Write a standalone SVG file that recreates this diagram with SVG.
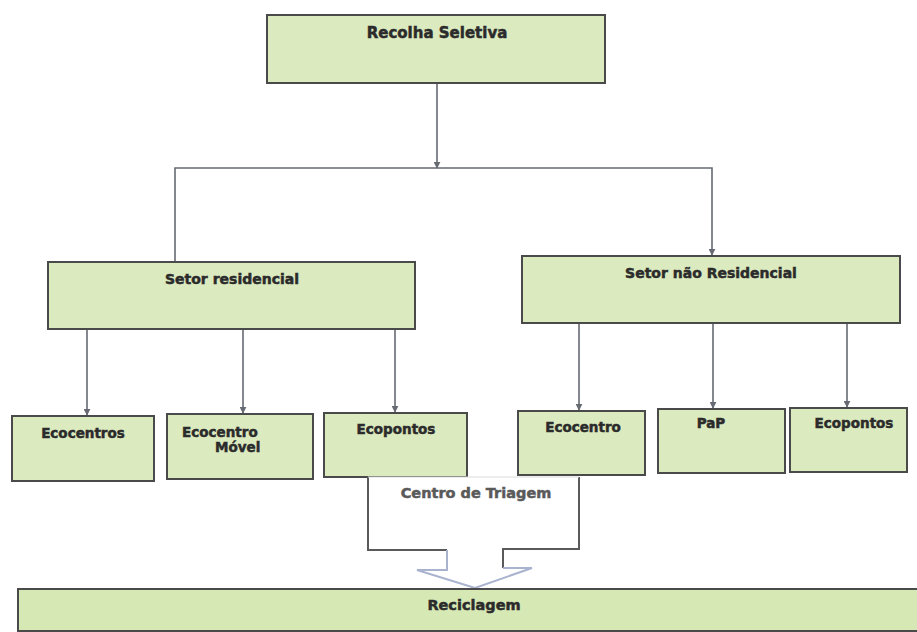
<svg xmlns="http://www.w3.org/2000/svg" width="917" height="632" viewBox="0 0 917 632">
<style>
.box{fill:#dbeabf;stroke:#4a4a4a;stroke-width:2}
.lbl{font-family:"DejaVu Sans","Liberation Sans",sans-serif;font-weight:bold;font-size:13.5px;fill:#2b2b2b;stroke:#2b2b2b;stroke-width:0.5}
.c{text-anchor:middle}
.con{fill:none;stroke:#666a72;stroke-width:1.6}
</style>
<defs>
<marker id="ah" viewBox="0 0 10 10" refX="9" refY="5" markerWidth="7" markerHeight="7" orient="auto" markerUnits="userSpaceOnUse">
<path d="M0,0 L10,5 L0,10 z" fill="#666a72"/>
</marker>
</defs>
<rect width="917" height="632" fill="#ffffff"/>
<g id="connectors">
<path class="con" d="M437,83 V168" marker-end="url(#ah)"/>
<path class="con" d="M175,262 V168 H712 V255" marker-end="url(#ah)"/>
<path class="con" d="M87,329 V415" marker-end="url(#ah)"/>
<path class="con" d="M243,329 V413" marker-end="url(#ah)"/>
<path class="con" d="M395,329 V412" marker-end="url(#ah)"/>
<path class="con" d="M579,323 V410" marker-end="url(#ah)"/>
<path class="con" d="M713,323 V408" marker-end="url(#ah)"/>
<path class="con" d="M847,323 V407" marker-end="url(#ah)"/>
</g>
<g id="recolha">
<rect class="box" x="267" y="15" width="338" height="68"/>
<text class="lbl c" x="437" y="38" style="font-size:15px">Recolha Seletiva</text>
</g>
<g id="setor-residencial">
<rect class="box" x="48" y="262" width="367" height="67"/>
<text class="lbl c" x="232" y="284" style="font-size:14px">Setor residencial</text>
</g>
<g id="setor-nao-residencial">
<rect class="box" x="522" y="256" width="378" height="67"/>
<text class="lbl c" x="711" y="278" style="font-size:14px">Setor não Residencial</text>
</g>
<g id="ecocentros">
<rect class="box" x="12" y="416" width="142" height="65"/>
<text class="lbl c" x="83" y="438">Ecocentros</text>
</g>
<g id="ecocentro-movel">
<rect class="box" x="167" y="414" width="146" height="65"/>
<text class="lbl" x="182" y="437">Ecocentro</text>
<text class="lbl" x="215" y="452">Móvel</text>
</g>
<g id="ecopontos-1">
<rect class="box" x="324" y="413" width="143" height="64"/>
<text class="lbl c" x="396" y="434">Ecopontos</text>
</g>
<g id="ecocentro">
<rect class="box" x="518" y="411" width="127" height="64"/>
<text class="lbl c" x="583" y="432">Ecocentro</text>
</g>
<g id="pap">
<rect class="box" x="658" y="409" width="127" height="64"/>
<text class="lbl c" x="711" y="428">PaP</text>
</g>
<g id="ecopontos-2">
<rect class="box" x="790" y="408" width="117" height="64"/>
<text class="lbl c" x="854" y="428">Ecopontos</text>
</g>
<g id="centro-triagem">
<path d="M368,477 H579 V549 H503 V568 H532 L475,588 L417,570 H447 V550 H368 Z" fill="#ffffff" stroke="none"/>
<path d="M368,477 V550 H447" fill="none" stroke="#5a5a5a" stroke-width="2"/>
<path d="M579,477 V549 H503 V568" fill="none" stroke="#5a5a5a" stroke-width="2"/>
<path d="M368,477 H579" fill="none" stroke="#d8dcd8" stroke-width="1"/>
<path d="M447,550 V570 H417 L475,588 L532,568 H503" fill="none" stroke="#a9b3cf" stroke-width="2"/>
<text class="lbl c" x="476" y="498" style="fill:#5a5a5a;stroke:#5a5a5a;font-size:14.5px">Centro de Triagem</text>
</g>
<g id="reciclagem">
<rect class="box" x="18" y="589" width="905" height="42" style="fill:#d6e9b4"/>
<text class="lbl c" x="474" y="610" style="font-size:14.5px">Reciclagem</text>
</g>
</svg>
